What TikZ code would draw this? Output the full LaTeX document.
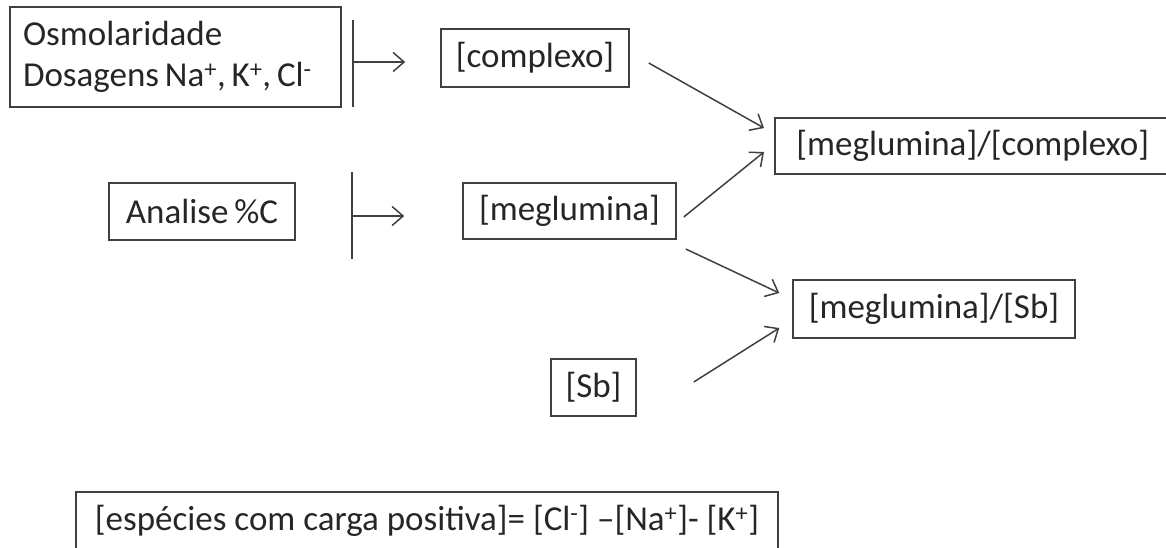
\documentclass[tikz,border=0pt]{standalone}
\usepackage{fontspec}
\setmainfont{Carlito}
\usepackage{tikz}
\usetikzlibrary{arrows.meta,calc}

\tikzset{
  box/.style={draw=black!75, line width=1.5pt, text=black!85, inner sep=0pt,
    minimum height=57pt, font=\fontsize{35}{41}\selectfont},
  link/.style={draw=black!75, line width=1.5pt,
    -{Straight Barb[length=11pt,width=19pt,line width=1.5pt]}},
  bar/.style={draw=black!75, line width=1.5pt}
}

\begin{document}
\begin{tikzpicture}[x=1pt,y=-1pt]
  \useasboundingbox (0,0) rectangle (1166,547);
  % boxes
  \node[box, minimum width=331pt, minimum height=100pt, inner xsep=13pt, text width=305pt, align=left] (osmo) at (175.5,57)
    {Osmolaridade\\Dosagens\,Na\textsuperscript{+},\,K\textsuperscript{+},\,Cl\textsuperscript{-}};
  \node[box, minimum width=188pt, minimum height=58pt] (cplx) at (535,58) {[complexo]};
  \node[box, minimum width=186pt] (analise) at (202,211.5) {Analise\,\%C};
  \node[box, minimum width=213pt, minimum height=56pt] (meg) at (569.5,211) {[meglumina]};
  \node[box, anchor=west, minimum width=396pt, minimum height=56pt] (megcplx) at (774,146) {[meglumina]/[complexo]};
  \node[box, minimum width=282pt, minimum height=58pt] (megsb) at (934,309) {[meglumina]/[Sb]};
  \node[box, minimum width=85pt] (sb) at (593.5,387.5) {[Sb]};
  \node[box, minimum width=702pt] (carga) at (427,520.5)
    {[espécies com carga positiva]= [Cl\textsuperscript{-}] –[Na\textsuperscript{+}]- [K\textsuperscript{+}]};
  % bars
  \coordinate (bar1) at (353,62);
  \coordinate (bar2) at (352,216);
  \draw[bar] ($(bar1)+(0,-42)$) -- ($(bar1)+(0,45)$);
  \draw[bar] ($(bar2)+(0,-44)$) -- ($(bar2)+(0,43)$);
  \draw[link] (bar1) -- ($(cplx.west)+(-35,4)$);
  \draw[link] (bar2) -- ($(meg.west)+(-58,5)$);
  % connectors
  \draw[link] ($(cplx.east)+(19,5)$) -- ($(megcplx.west)+(-10,-18)$);
  \draw[link] ($(meg.east)+(7,6)$) -- ($(megcplx.west)+(-10,6)$);
  \draw[link] ($(meg.east)+(9,38)$) -- ($(megsb.west)+(-13,-16)$);
  \draw[link] ($(sb.east)+(57,-5.5)$) -- ($(megsb.west)+(-13,19)$);
\end{tikzpicture}
\end{document}
